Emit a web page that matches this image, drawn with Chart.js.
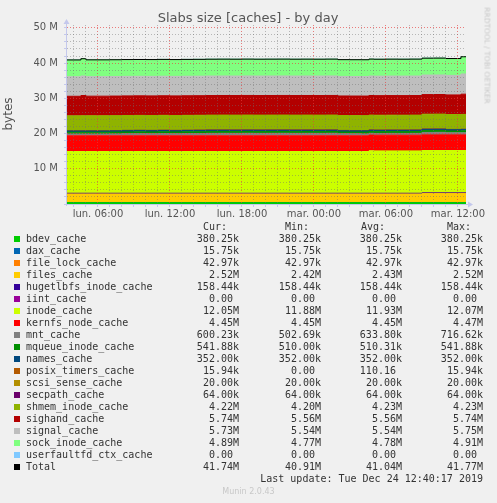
<!DOCTYPE html>
<html>
<head>
<meta charset="utf-8">
<title>Slabs size [caches] - by day</title>
<script src="https://cdn.jsdelivr.net/npm/chart.js@4.4.0/dist/chart.umd.min.js"></script>
<style>
    body { margin: 0; background: #f0f0f0; width: 497px; height: 503px; overflow: hidden; position: relative; }
    #wrap { position: absolute; left: 0; top: 0; width: 497px; height: 230px; }
    .txt { position: absolute; white-space: pre; font-family: "DejaVu Sans", sans-serif; color: #555; }
    .mono { position: absolute; white-space: pre; font-family: "DejaVu Sans Mono", monospace; font-size: 10px; line-height: 12px; color: #333; }
    .sw { position: absolute; width: 6px; height: 6px; }
</style>
</head>
<body>
<div id="wrap"><canvas id="slabs" width="497" height="230"></canvas></div>
<div class="txt" style="left:0;top:10px;width:496px;text-align:center;font-size:13px;">Slabs size [caches] - by day</div>
<div class="txt" style="left:-22px;top:107px;width:60px;text-align:center;font-size:12px;transform:rotate(-90deg);">bytes</div>
<div class="txt" style="left:437px;top:51px;width:100px;text-align:center;font-size:7.5px;color:#c8c8c8;transform:rotate(90deg);">RRDTOOL / TOBI OETIKER</div>
<div id="legend"></div>
<div class="txt" style="left:0;top:487px;width:497px;text-align:center;font-size:8px;color:#c8c8c8;">Munin 2.0.43</div>

<script>
// hours since lun. 00:00
var times = [3.42, 4, 4.58, 5, 6, 7, 8, 9, 10, 11,
             12, 13, 14, 15, 16, 17, 18, 19, 20, 21,
             22, 23, 24, 25, 26, 27, 28, 28.58, 29, 30,
             31, 32, 33, 34, 35, 36, 36.25, 36.67];

var tickHours = [6, 12, 18, 24, 30, 36];
var tickLabels = ["lun. 06:00", "lun. 12:00", "lun. 18:00", "mar. 00:00", "mar. 06:00", "mar. 12:00"];

// values in M
var bdevCache = [0.38, 0.38, 0.38, 0.38, 0.38, 0.38, 0.38, 0.38, 0.38, 0.38,
                 0.38, 0.38, 0.38, 0.38, 0.38, 0.38, 0.38, 0.38, 0.38, 0.38,
                 0.38, 0.38, 0.38, 0.38, 0.38, 0.38, 0.38, 0.38, 0.38, 0.38,
                 0.38, 0.38, 0.38, 0.38, 0.38, 0.38, 0.38, 0.38];
var daxCache = [0.016, 0.016, 0.016, 0.016, 0.016, 0.016, 0.016, 0.016, 0.016, 0.016,
                0.016, 0.016, 0.016, 0.016, 0.016, 0.016, 0.016, 0.016, 0.016, 0.016,
                0.016, 0.016, 0.016, 0.016, 0.016, 0.016, 0.016, 0.016, 0.016, 0.016,
                0.016, 0.016, 0.016, 0.016, 0.016, 0.016, 0.016, 0.016];
var fileLockCache = [0.043, 0.043, 0.043, 0.043, 0.043, 0.043, 0.043, 0.043, 0.043, 0.043,
                     0.043, 0.043, 0.043, 0.043, 0.043, 0.043, 0.043, 0.043, 0.043, 0.043,
                     0.043, 0.043, 0.043, 0.043, 0.043, 0.043, 0.043, 0.043, 0.043, 0.043,
                     0.043, 0.043, 0.043, 0.043, 0.043, 0.043, 0.043, 0.043];
var filesCache = [2.42, 2.42, 2.42, 2.42, 2.42, 2.42, 2.42, 2.42, 2.42, 2.42,
                  2.42, 2.42, 2.42, 2.42, 2.42, 2.42, 2.42, 2.42, 2.42, 2.42,
                  2.42, 2.42, 2.42, 2.42, 2.42, 2.42, 2.42, 2.42, 2.42, 2.42,
                  2.42, 2.42, 2.52, 2.52, 2.52, 2.52, 2.52, 2.52];
var hugetlbfsCache = [0.158, 0.158, 0.158, 0.158, 0.158, 0.158, 0.158, 0.158, 0.158, 0.158,
                      0.158, 0.158, 0.158, 0.158, 0.158, 0.158, 0.158, 0.158, 0.158, 0.158,
                      0.158, 0.158, 0.158, 0.158, 0.158, 0.158, 0.158, 0.158, 0.158, 0.158,
                      0.158, 0.158, 0.158, 0.158, 0.158, 0.158, 0.158, 0.158];
var iintCache = [0, 0, 0, 0, 0, 0, 0, 0, 0, 0,
                 0, 0, 0, 0, 0, 0, 0, 0, 0, 0,
                 0, 0, 0, 0, 0, 0, 0, 0, 0, 0,
                 0, 0, 0, 0, 0, 0, 0, 0];
var inodeCache = [11.88, 11.88, 11.88, 11.88, 11.88, 11.88, 11.88, 11.88, 11.88, 11.88,
                  11.88, 11.88, 11.88, 11.88, 11.88, 11.88, 11.88, 11.88, 11.88, 11.88,
                  11.88, 11.88, 11.88, 11.88, 11.88, 11.88, 11.88, 12.07, 12.05, 12.05,
                  12.05, 12.05, 12.05, 12.05, 12.05, 12.05, 12.05, 12.05];
var kernfsCache = [4.45, 4.45, 4.45, 4.45, 4.45, 4.45, 4.45, 4.45, 4.45, 4.45,
                   4.45, 4.45, 4.45, 4.45, 4.45, 4.45, 4.45, 4.45, 4.45, 4.45,
                   4.45, 4.45, 4.45, 4.45, 4.45, 4.45, 4.45, 4.47, 4.45, 4.45,
                   4.45, 4.45, 4.45, 4.45, 4.45, 4.45, 4.45, 4.45];
var mntCache = [0.52, 0.52, 0.52, 0.52, 0.52, 0.55, 0.6, 0.62, 0.6, 0.64,
                0.6, 0.64, 0.66, 0.7, 0.71, 0.7, 0.72, 0.7, 0.71, 0.72,
                0.7, 0.71, 0.7, 0.72, 0.58, 0.56, 0.55, 0.5, 0.5, 0.52,
                0.51, 0.53, 0.7, 0.72, 0.6, 0.6, 0.6, 0.6];
var mqueueCache = [0.51, 0.51, 0.51, 0.51, 0.51, 0.51, 0.51, 0.51, 0.51, 0.51,
                   0.51, 0.51, 0.51, 0.51, 0.51, 0.51, 0.51, 0.51, 0.51, 0.51,
                   0.51, 0.51, 0.51, 0.51, 0.51, 0.51, 0.51, 0.51, 0.51, 0.51,
                   0.51, 0.51, 0.51, 0.51, 0.51, 0.51, 0.54, 0.54];
var namesCache = [0.352, 0.352, 0.352, 0.352, 0.352, 0.352, 0.352, 0.352, 0.352, 0.352,
                  0.352, 0.352, 0.352, 0.352, 0.352, 0.352, 0.352, 0.352, 0.352, 0.352,
                  0.352, 0.352, 0.352, 0.352, 0.352, 0.352, 0.352, 0.352, 0.352, 0.352,
                  0.352, 0.352, 0.352, 0.352, 0.352, 0.352, 0.352, 0.352];
var posixTimersCache = [0, 0, 0, 0, 0, 0, 0, 0, 0, 0,
                        0, 0, 0, 0, 0, 0, 0, 0, 0, 0,
                        0, 0, 0, 0, 0, 0, 0, 0, 0, 0,
                        0, 0, 0, 0, 0, 0, 0.016, 0.016];
var scsiSenseCache = [0.02, 0.02, 0.02, 0.02, 0.02, 0.02, 0.02, 0.02, 0.02, 0.02,
                      0.02, 0.02, 0.02, 0.02, 0.02, 0.02, 0.02, 0.02, 0.02, 0.02,
                      0.02, 0.02, 0.02, 0.02, 0.02, 0.02, 0.02, 0.02, 0.02, 0.02,
                      0.02, 0.02, 0.02, 0.02, 0.02, 0.02, 0.02, 0.02];
var secpathCache = [0.064, 0.064, 0.064, 0.064, 0.064, 0.064, 0.064, 0.064, 0.064, 0.064,
                    0.064, 0.064, 0.064, 0.064, 0.064, 0.064, 0.064, 0.064, 0.064, 0.064,
                    0.064, 0.064, 0.064, 0.064, 0.064, 0.064, 0.064, 0.064, 0.064, 0.064,
                    0.064, 0.064, 0.064, 0.064, 0.064, 0.064, 0.064, 0.064];
var shmemInodeCache = [4.2, 4.2, 4.23, 4.23, 4.23, 4.23, 4.23, 4.23, 4.23, 4.23,
                       4.23, 4.23, 4.23, 4.23, 4.23, 4.23, 4.23, 4.23, 4.23, 4.23,
                       4.23, 4.23, 4.23, 4.23, 4.23, 4.23, 4.23, 4.23, 4.23, 4.23,
                       4.23, 4.23, 4.23, 4.23, 4.23, 4.23, 4.22, 4.22];
var sighandCache = [5.56, 5.56, 5.74, 5.56, 5.56, 5.56, 5.56, 5.56, 5.56, 5.56,
                    5.56, 5.56, 5.56, 5.56, 5.56, 5.56, 5.56, 5.56, 5.56, 5.56,
                    5.56, 5.56, 5.56, 5.56, 5.56, 5.56, 5.56, 5.56, 5.56, 5.56,
                    5.56, 5.56, 5.56, 5.56, 5.56, 5.56, 5.74, 5.74];
var signalCache = [5.54, 5.54, 5.54, 5.54, 5.54, 5.54, 5.54, 5.54, 5.54, 5.54,
                   5.54, 5.54, 5.54, 5.54, 5.54, 5.54, 5.54, 5.54, 5.54, 5.54,
                   5.54, 5.54, 5.54, 5.54, 5.54, 5.54, 5.54, 5.54, 5.54, 5.54,
                   5.54, 5.54, 5.54, 5.54, 5.54, 5.54, 5.73, 5.73];
var sockInodeCache = [4.77, 4.77, 4.91, 4.77, 4.77, 4.77, 4.77, 4.77, 4.77, 4.77,
                      4.77, 4.77, 4.77, 4.77, 4.77, 4.77, 4.77, 4.77, 4.77, 4.77,
                      4.77, 4.77, 4.77, 4.77, 4.77, 4.77, 4.77, 4.79, 4.79, 4.79,
                      4.79, 4.79, 4.79, 4.79, 4.79, 4.79, 4.89, 4.89];
var userfaultfdCache = [0, 0, 0, 0, 0, 0, 0, 0, 0, 0,
                        0, 0, 0, 0, 0, 0, 0, 0, 0, 0,
                        0, 0, 0, 0, 0, 0, 0, 0, 0, 0,
                        0, 0, 0, 0, 0, 0, 0, 0];

var seriesNames = ["bdev_cache", "dax_cache", "file_lock_cache", "files_cache", "hugetlbfs_inode_cache",
                   "iint_cache", "inode_cache", "kernfs_node_cache", "mnt_cache", "mqueue_inode_cache",
                   "names_cache", "posix_timers_cache", "scsi_sense_cache", "secpath_cache", "shmem_inode_cache",
                   "sighand_cache", "signal_cache", "sock_inode_cache", "userfaultfd_ctx_cache", "Total"];
var seriesColors = ["#00CC00", "#0066B3", "#FF8000", "#FFCC00", "#330099",
                    "#990099", "#CCFF00", "#FF0000", "#808080", "#008F00",
                    "#00487D", "#B35A00", "#B38F00", "#6B006B", "#8FB300",
                    "#B30000", "#BEBEBE", "#80FF80", "#80C9FF", "#000000"];

// legend statistics
var legendCur = ["380.25k", "15.75k", "42.97k", "2.52M", "158.44k", "0.00 ", "12.05M", "4.45M", "600.23k", "541.88k",
                 "352.00k", "15.94k", "20.00k", "64.00k", "4.22M", "5.74M", "5.73M", "4.89M", "0.00 ", "41.74M"];
var legendMin = ["380.25k", "15.75k", "42.97k", "2.42M", "158.44k", "0.00 ", "11.88M", "4.45M", "502.69k", "510.00k",
                 "352.00k", "0.00 ", "20.00k", "64.00k", "4.20M", "5.56M", "5.54M", "4.77M", "0.00 ", "40.91M"];
var legendAvg = ["380.25k", "15.75k", "42.97k", "2.43M", "158.44k", "0.00 ", "11.93M", "4.45M", "633.80k", "510.31k",
                 "352.00k", "110.16 ", "20.00k", "64.00k", "4.23M", "5.56M", "5.54M", "4.78M", "0.00 ", "41.04M"];
var legendMax = ["380.25k", "15.75k", "42.97k", "2.52M", "158.44k", "0.00 ", "12.07M", "4.47M", "716.62k", "541.88k",
                 "352.00k", "15.94k", "20.00k", "64.00k", "4.23M", "5.74M", "5.75M", "4.91M", "0.00 ", "41.77M"];

var stackSeries = [bdevCache, daxCache, fileLockCache, filesCache, hugetlbfsCache,
                   iintCache, inodeCache, kernfsCache, mntCache, mqueueCache,
                   namesCache, posixTimersCache, scsiSenseCache, secpathCache, shmemInodeCache,
                   sighandCache, signalCache, sockInodeCache, userfaultfdCache];

function points(values) {
    return values.map(function (v, i) { return {x: times[i], y: v}; });
}

// Total = sum of the stacked series
var total = times.map(function (t, i) {
    var s = 0;
    stackSeries.forEach(function (arr) { s += arr[i]; });
    return s;
});

var datasets = stackSeries.map(function (arr, i) {
    return {
        label: seriesNames[i],
        data: points(arr),
        backgroundColor: seriesColors[i],
        borderColor: seriesColors[i],
        borderWidth: 1,
        fill: i === 0 ? "origin" : "-1",
        stack: "slabs",
        stepped: true,
        pointRadius: 0
    };
});
datasets.push({
    label: "Total",
    data: points(total),
    borderColor: "#000000",
    borderWidth: 1,
    fill: false,
    stack: "total",
    stepped: true,
    pointRadius: 0,
    order: -1
});


// Axis lines with arrows
var axisArrows = {
    id: "axisArrows",
    afterDraw: function (chart) {
        var a = chart.chartArea, ctx = chart.ctx;
        ctx.save();
        ctx.strokeStyle = "#c4c8ec";
        ctx.fillStyle = "#c4c8ec";
        ctx.lineWidth = 1;
        ctx.beginPath();
        ctx.moveTo(a.left - 0.5, a.bottom + 2);
        ctx.lineTo(a.left - 0.5, a.top - 2);
        ctx.moveTo(a.left - 3, a.bottom + 0.5);
        ctx.lineTo(a.right + 3, a.bottom + 0.5);
        ctx.stroke();
        ctx.beginPath();
        ctx.moveTo(a.left - 3.5, a.top - 1);
        ctx.lineTo(a.left + 2.5, a.top - 1);
        ctx.lineTo(a.left - 0.5, a.top - 6);
        ctx.closePath();
        ctx.fill();
        ctx.beginPath();
        ctx.moveTo(a.right + 2, a.bottom - 2.5);
        ctx.lineTo(a.right + 2, a.bottom + 3.5);
        ctx.lineTo(a.right + 7, a.bottom + 0.5);
        ctx.closePath();
        ctx.fill();
        ctx.restore();
    }
};

var minorGrid = "rgba(110, 110, 110, 0.45)";
var majorGrid = "rgba(230, 60, 60, 0.65)";

var ctx1 = document.getElementById("slabs").getContext("2d");
var slabsChart = new Chart(ctx1, {
    type: "line",
    data: {datasets: datasets},
    plugins: [axisArrows],
    options: {
        responsive: false,
        animation: false,
        devicePixelRatio: 1,
        layout: {padding: {top: 25, right: 31, left: 0, bottom: 0}},
        plugins: {legend: {display: false}, tooltip: {enabled: false}},
        elements: {line: {tension: 0}},
        scales: {
            x: {
                type: "linear",
                min: times[0],
                max: times[times.length - 1],
                afterFit: function (scale) { scale.height = 26; },
                afterBuildTicks: function (scale) {
                    var t = [];
                    for (var h = 4; h <= 36; h++) t.push({value: h});
                    scale.ticks = t;
                },
                grid: {
                    z: 1,
                    color: function (c) { return c.tick && c.tick.value % 6 === 0 ? majorGrid : minorGrid; },
                    tickLength: 3,
                    tickColor: "#c4c8ec"
                },
                border: {display: false, dash: [1, 2]},
                ticks: {
                    autoSkip: false,
                    maxRotation: 0,
                    padding: 1,
                    color: "#555",
                    font: {family: "DejaVu Sans", size: 10},
                    callback: function (v) {
                        var k = tickHours.indexOf(v);
                        return k >= 0 ? tickLabels[k] : "";
                    }
                }
            },
            y: {
                stacked: true,
                min: 0,
                max: 50.8,
                afterFit: function (scale) { scale.width = 67; },
                afterBuildTicks: function (scale) {
                    var t = [];
                    for (var v = 0; v <= 50; v += 2) t.push({value: v});
                    scale.ticks = t;
                },
                grid: {
                    z: 1,
                    color: function (c) { return c.tick && c.tick.value % 10 === 0 ? majorGrid : minorGrid; },
                    tickLength: 3,
                    tickColor: "#c4c8ec"
                },
                border: {display: false, dash: [1, 2]},
                ticks: {
                    autoSkip: false,
                    padding: 6,
                    color: "#555",
                    font: {family: "DejaVu Sans", size: 10},
                    callback: function (v) { return v > 0 && v % 10 === 0 ? v + " M" : ""; }
                }
            }
        }
    }
});


// Legend table
var legend = document.getElementById("legend");
var html = "";
function cell(text, style) {
    return '<div class="mono" style="' + style + '">' + text + '</div>';
}
html += cell("Cur:", "left:203px;top:221px;");
html += cell("Min:", "left:285px;top:221px;");
html += cell("Avg:", "left:361px;top:221px;");
html += cell("Max:", "left:447px;top:221px;");
seriesNames.forEach(function (name, i) {
    var top = 233 + i * 12;
    html += '<div class="sw" style="left:14px;top:' + (top + 3) + 'px;background:' + seriesColors[i] + ';"></div>';
    html += cell(name, "left:26px;top:" + top + "px;");
    html += cell(legendCur[i], "right:258px;top:" + top + "px;text-align:right;");
    html += cell(legendMin[i], "right:176px;top:" + top + "px;text-align:right;");
    html += cell(legendAvg[i], "right:95px;top:" + top + "px;text-align:right;");
    html += cell(legendMax[i], "right:14px;top:" + top + "px;text-align:right;");
});
html += cell("Last update: Tue Dec 24 12:40:17 2019", "right:14px;top:473px;text-align:right;");
legend.innerHTML = html;
</script>
</body>
</html>
